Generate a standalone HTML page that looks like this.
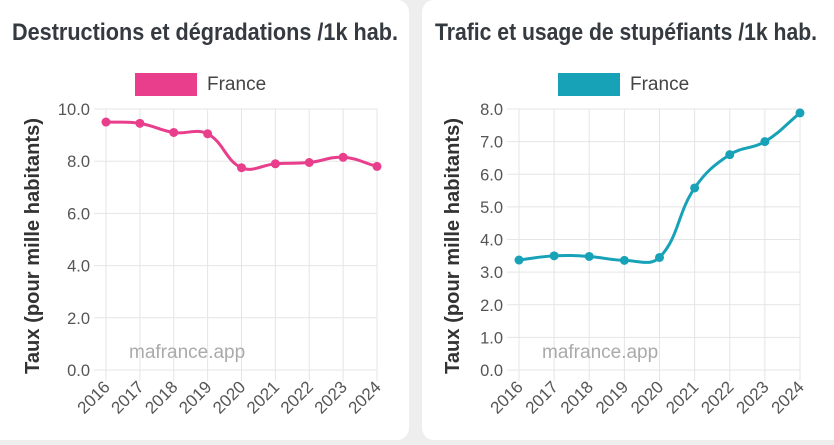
<!DOCTYPE html>
<html><head><meta charset="utf-8"><style>
html,body{margin:0;padding:0;width:834px;height:445px;overflow:hidden;background:#eeeeee;font-family:"Liberation Sans",sans-serif}
.card{position:absolute;top:0;height:440px;background:#fff;border-radius:12px}
svg{position:absolute;left:0;top:0}
</style></head><body>
<div class="card" style="left:-12px;width:421px"></div>
<div class="card" style="left:422px;width:424px"></div>
<svg id="s" width="834" height="445" xmlns="http://www.w3.org/2000/svg"></svg>
<script>
var s=document.getElementById('s'),h='';
function chart(o){
 var x0=o.x0,x1=o.x1,yT=109,yB=370,n=9,st=(x1-x0)/8;
 h+='<text x="'+o.tx+'" y="40" text-anchor="middle" font-family="Liberation Sans Narrow, Liberation Sans, sans-serif" font-weight="bold" font-size="24" fill="#343a40" textLength="'+o.tl+'" lengthAdjust="spacingAndGlyphs">'+o.title+'</text>';
 h+='<rect x="'+(o.lx)+'" y="73" width="62" height="23" fill="'+o.c+'"/>';
 h+='<text x="'+(o.lx+72)+'" y="90" font-size="19" fill="#444">France</text>';
 for(var i=0;i<n;i++){var x=x0+i*st;h+='<line x1="'+x+'" y1="'+yT+'" x2="'+x+'" y2="381" stroke="#e5e5e5" stroke-width="1"/>';
  var yr=2016+i;h+='<text transform="translate('+(x+5)+',388) rotate(-45)" text-anchor="end" font-size="17" fill="#555">'+yr+'</text>';}
 for(var k=0;k<=o.max;k+=o.stp){var y=yB-(k/o.max)*(yB-yT);
  h+='<line x1="'+(x0-12)+'" y1="'+y+'" x2="'+x1+'" y2="'+y+'" stroke="#e5e5e5"/>';
  h+='<text x="'+(x0-16)+'" y="'+(y+6)+'" text-anchor="end" font-size="16.5" fill="#555">'+k.toFixed(1)+'</text>';}
 h+='<text transform="translate('+o.ax+',246) rotate(-90)" text-anchor="middle" font-weight="bold" font-size="20" fill="#333" textLength="256" lengthAdjust="spacingAndGlyphs">Taux (pour mille habitants)</text>';
 h+='<text x="'+(x0+23)+'" y="358" font-size="19" fill="#aaa">mafrance.app</text>';
 var p=o.d.map(function(v,i){return [x0+i*st,yB-(v/o.max)*(yB-yT)]});
 var t=0.4,cps=[];
 for(i=0;i<n;i++){var pr=p[Math.max(i-1,0)],c=p[i],nx=p[Math.min(i+1,n-1)];
  var d1=Math.hypot(c[0]-pr[0],c[1]-pr[1]),d2=Math.hypot(nx[0]-c[0],nx[1]-c[1]);
  var fa=d1+d2?t*d1/(d1+d2):0,fb=d1+d2?t*d2/(d1+d2):0;
  cps.push([[c[0]-fa*(nx[0]-pr[0]),c[1]-fa*(nx[1]-pr[1])],[c[0]+fb*(nx[0]-pr[0]),c[1]+fb*(nx[1]-pr[1])]]);}
 var dd='M'+p[0][0]+','+p[0][1];
 for(i=1;i<n;i++){dd+=' C'+cps[i-1][1][0]+','+cps[i-1][1][1]+' '+cps[i][0][0]+','+cps[i][0][1]+' '+p[i][0]+','+p[i][1];}
 h+='<path d="'+dd+'" fill="none" stroke="'+o.c+'" stroke-width="3"/>';
 p.forEach(function(q){h+='<circle cx="'+q[0]+'" cy="'+q[1]+'" r="4.5" fill="'+o.c+'"/>';});
}
chart({x0:106,x1:377,max:10,stp:2,c:'#e83e8c',title:'Destructions et dégradations /1k hab.',tx:205,tl:386,lx:135,ax:39,
 d:[9.5,9.45,9.1,9.05,7.75,7.9,7.95,8.15,7.8]});
chart({x0:519,x1:800,max:8,stp:1,c:'#17a2b8',title:'Trafic et usage de stupéfiants /1k hab.',tx:626,tl:382,lx:558,ax:459,
 d:[3.37,3.5,3.48,3.36,3.45,5.58,6.6,7.0,7.88]});
s.innerHTML=h;
</script>
</body></html>
